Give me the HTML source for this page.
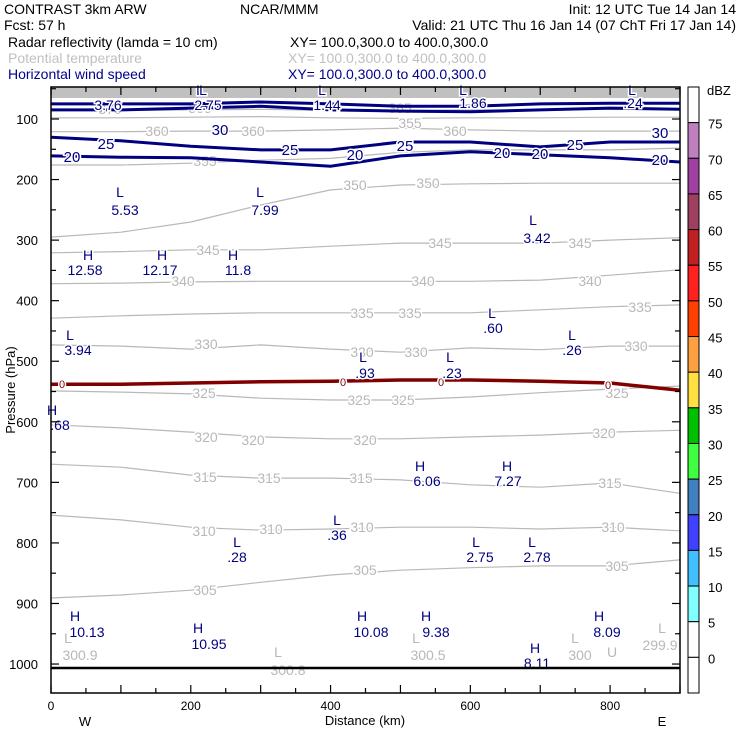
<!DOCTYPE html>
<html><head><meta charset="utf-8"><style>
html,body{margin:0;padding:0;background:#fff;}
svg{display:block;font-family:"Liberation Sans",sans-serif;}
.t{font-size:14px;white-space:pre;}
</style></head><body>
<svg id="chart" width="740" height="740" viewBox="0 0 740 740" xmlns="http://www.w3.org/2000/svg">
<g class="t">
<text x="4" y="14">CONTRAST  3km ARW</text>
<text x="240" y="14">NCAR/MMM</text>
<text x="736" y="14" text-anchor="end">Init: 12 UTC Tue 14 Jan 14</text>
<text x="4" y="30">Fcst:    57 h</text>
<text x="736" y="30" text-anchor="end">Valid: 21 UTC Thu 16 Jan 14 (07 ChT Fri 17 Jan 14)</text>
<text x="8" y="47" fill="#000">Radar reflectivity (lamda = 10 cm)</text>
<text x="290" y="47" fill="#000">XY= 100.0,300.0 to 400.0,300.0</text>
<text x="8" y="63" fill="#c0c0c0">Potential temperature</text>
<text x="288" y="63" fill="#c0c0c0">XY= 100.0,300.0 to 400.0,300.0</text>
<text x="8" y="79" fill="#00008b">Horizontal wind speed</text>
<text x="288" y="79" fill="#00008b">XY= 100.0,300.0 to 400.0,300.0</text>
</g>
<g id="plot"></g>
<g id="cbar"></g>
</svg>
<script>
const kmPts=[0,100,200,300,400,500,600,700,800,900];
const thetaLevels=[350,345,340,335,330,325,320,315,310,305];
const theta350=[295,287,270,242,217,209,207,206,206,206];
const theta345=[321,319,316,316,310,305,305,305,300,296];
const theta340=[372,371,369,368,368,368,368,366,358,349];
const theta335=[429,425,422,420,420,420,420,415,410,407];
const theta330=[473,475,480,473,480,485,478,481,475,475];
const theta325=[549,551,554,561,564,564,559,552,546,541];
const theta320=[605,610,617,625,628,628,625,622,617,614];
const theta315=[670,675,688,693,693,696,704,708,701,718];
const theta310=[754,762,774,779,777,774,774,777,774,780];
const theta305=[891,886,878,865,853,845,841,838,838,828];
const theta355=[176,176,173,168,165,155,151,151,151,148];
const theta360=[121,121,120,120,118,115,118,120,120,120];
const theta365=[98,98,97,96,98,99,98,98,97,97];
const theta370=[85,86,85,84,86,86,85,85,84,85];
const wind30a=[75,75,75,72,75,79,79,75,74,74];
const wind30b=[85,85,82,79,85,87,88,85,82,84];
const wind25=[130,136,145,151,151,138,138,146,138,138];
const wind20=[161,163,164,171,178,161,154,159,164,171];
const dbz0=[538,538,536,534,533,531,531,533,536,548];
const pTicks=[100,200,300,400,500,600,700,800,900,1000];
const kmTicks=[0,200,400,600,800];
const cbarLevels=[75,70,65,60,55,50,45,40,35,30,25,20,15,10,5,0];
const cbarColors=["#ffffff","#c080c0","#a040a0","#a04060","#c02020","#ff2020","#ff4000","#ffa040","#ffe040","#00c000","#40ff40","#4080c0","#4040ff","#40c0ff","#80ffff","#ffffff","#ffffff"];

const X0=51,X1=680,Y0=87,Y1=693;
function xs(km){return X0+km*(X1-X0)/900;}
function ys(p){return 119+(p-100)*0.6056;}
const NS="http://www.w3.org/2000/svg";
const plot=document.getElementById('plot');
function mk(tag,attrs,parent){const e=document.createElementNS(NS,tag);for(const k in attrs)e.setAttribute(k,attrs[k]);(parent||plot).appendChild(e);return e;}
function line(arr,color,w,name){
  const d=arr.map((p,i)=>(i?'L':'M')+xs(kmPts[i]).toFixed(1)+','+ys(p).toFixed(1)).join('');
  const e=mk('path',{d:d,fill:'none',stroke:color,'stroke-width':w});
  
  
}
function txt(x,y,s,color,name,size){
  const e=mk('text',{x:x,y:y,'text-anchor':'middle',fill:color,'font-size':size||14,stroke:'#fff','stroke-width':3,'paint-order':'stroke'});
  e.textContent=s;
  
  
}
const gray='#b8b8b8';
const band=mk('rect',{x:X0,y:Y0,width:X1-X0,height:11,fill:'#c0c0c0'});


[theta370,theta365,theta360,theta355].forEach((a,i)=>line(a,gray,1.2,'theta-'+(370-5*i)));
[theta350,theta345,theta340,theta335,theta330,theta325,theta320,theta315,theta310,theta305].forEach((a,i)=>line(a,gray,1.2,'theta-'+thetaLevels[i]));
const tl=[[110,114,'370'],[200,113,'365'],[400,113,'365'],[157,136,'360'],[253,136,'360'],[455,136,'360'],[205,166,'355'],[410,128,'355'],
[355,190,'350'],[428,188,'350'],[208,255,'345'],[440,248,'345'],[580,248,'345'],[183,286,'340'],[423,286,'340'],[590,286,'340'],
[362,318,'335'],[410,318,'335'],[640,312,'335'],[206,349,'330'],[362,357,'330'],[416,357,'330'],[636,351,'330'],
[204,398,'325'],[359,405,'325'],[403,405,'325'],[617,398,'325'],[206,442,'320'],[253,445,'320'],[365,445,'320'],[604,438,'320'],
[205,482,'315'],[269,483,'315'],[361,483,'315'],[610,488,'315'],[204,536,'310'],[271,534,'310'],[362,532,'310'],[613,532,'310'],
[205,595,'305'],[365,575,'305'],[617,571,'305']];
tl.forEach(t=>txt(t[0],t[1],t[2],gray,'theta-label-'+t[2]));
line(dbz0,'#800000',3.5,'reflectivity-0-contour');
[[62,388],[343,386],[441,386],[608,389]].forEach(p=>txt(p[0],p[1],'0','#800000','dbz-label-0',11));
const navy='#000080';
line(wind30a,navy,3,'wind-30-upper');
line(wind30b,navy,3,'wind-30-lower');
line(wind25,navy,3,'wind-25');
line(wind20,navy,3,'wind-20');
[[220,135,'30'],[660,138,'30'],[106,149,'25'],[290,155,'25'],[405,151,'25'],[575,150,'25'],[72,162,'20'],[355,160,'20'],[502,158,'20'],[540,159,'20'],[660,165,'20']]
 .forEach(t=>txt(t[0],t[1],t[2],navy,'wind-label-'+t[2],15));
const hl=[[200,95,'L',108,110,'3.76'],[203,95,'L',208,110,'2.75'],[322,95,'L',327,110,'1.44'],[463,95,'L',473,108,'1.86'],[632,95,'L',633,108,'.24'],
[120,197,'L',125,215,'5.53'],[260,197,'L',265,215,'7.99'],[533,225,'L',537,243,'3.42'],[88,260,'H',85,275,'12.58'],[162,260,'H',160,275,'12.17'],[233,260,'H',238,275,'11.8'],
[70,340,'L',78,355,'3.94'],[492,318,'L',493,333,'.60'],[572,340,'L',572,355,'.26'],[363,362,'L',365,378,'.93'],[450,362,'L',452,378,'.23'],[52,415,'H',60,430,'.68'],
[420,471,'H',427,486,'6.06'],[507,471,'H',508,486,'7.27'],[337,525,'L',337,540,'.36'],[237,547,'L',237,562,'.28'],[476,547,'L',480,562,'2.75'],[532,547,'L',537,562,'2.78'],
[75,621,'H',87,637,'10.13'],[198,633,'H',209,649,'10.95'],[362,621,'H',371,637,'10.08'],[426,621,'H',436,637,'9.38'],[535,653,'H',537,668,'8.11'],[599,621,'H',607,637,'8.09']];
hl.forEach(h=>{txt(h[0],h[1],h[2],navy,h[2]==='H'?'high-marker':'low-marker');txt(h[3],h[4],h[5],navy,'extremum-value');});
const gl=[[68,643,'L',80,660,'300.9'],[278,657,'L',288,675,'300.8'],[416,643,'L',428,660,'300.5'],[575,643,'L',580,660,'300'],[662,633,'L',660,650,'299.9']];
gl.forEach(h=>{txt(h[0],h[1],h[2],gray,'theta-low-marker');txt(h[3],h[4],h[5],gray,'theta-extremum-value');});
txt(612,657,'U',gray,'theta-marker');
const g=mk('line',{x1:X0,x2:X1,y1:668,y2:668,stroke:'#000','stroke-width':2.5});


const fr=mk('rect',{x:X0,y:Y0,width:X1-X0,height:Y1-Y0,fill:'none',stroke:'#000','stroke-width':1.5});


for(let p=50;p<=1000;p+=50){const y=ys(p);if(y<Y0)continue;
 mk('line',{x1:X0,x2:X0+(p%100?5:8),y1:y,y2:y,stroke:'#000','stroke-width':1.2});
 mk('line',{x1:X1,x2:X1-(p%100?5:8),y1:y,y2:y,stroke:'#000','stroke-width':1.2});}
pTicks.forEach(p=>{const e=mk('text',{x:38,y:ys(p)+5,'text-anchor':'end','font-size':13});e.textContent=p;
 
 });
for(let k=0;k<=900;k+=50){const x=xs(k);
 mk('line',{x1:x,x2:x,y1:Y1,y2:Y1-(k%100?5:8),stroke:'#000','stroke-width':1.2});
 mk('line',{x1:x,x2:x,y1:Y0,y2:Y0+(k%100?5:8),stroke:'#000','stroke-width':1.2});}
kmTicks.forEach(k=>{const e=mk('text',{x:xs(k),y:710,'text-anchor':'middle','font-size':12});e.textContent=k;
 
 });
let e=mk('text',{x:365,y:725,'text-anchor':'middle','font-size':13});e.textContent='Distance (km)';


e=mk('text',{x:85,y:726,'text-anchor':'middle','font-size':13});e.textContent='W';


e=mk('text',{x:662,y:726,'text-anchor':'middle','font-size':13});e.textContent='E';


e=mk('text',{x:15,y:390,'text-anchor':'middle','font-size':13,transform:'rotate(-90 15 390)'});e.textContent='Pressure (hPa)';


const cb=document.getElementById('cbar');
const CX=688,CW=11,segH=(Y1-Y0)/cbarColors.length;
cbarColors.forEach((c,i)=>{const r=mk('rect',{x:CX,y:Y0+i*segH,width:CW,height:segH,fill:c,stroke:'#000','stroke-width':1},cb);
 
 });
cbarLevels.forEach((v,i)=>{const t=mk('text',{x:708,y:Y0+(i+1)*segH+6,'font-size':13},cb);t.textContent=v;
 
 });
e=mk('text',{x:707,y:95,'font-size':13},cb);e.textContent='dBZ';


</script>
</body></html>
